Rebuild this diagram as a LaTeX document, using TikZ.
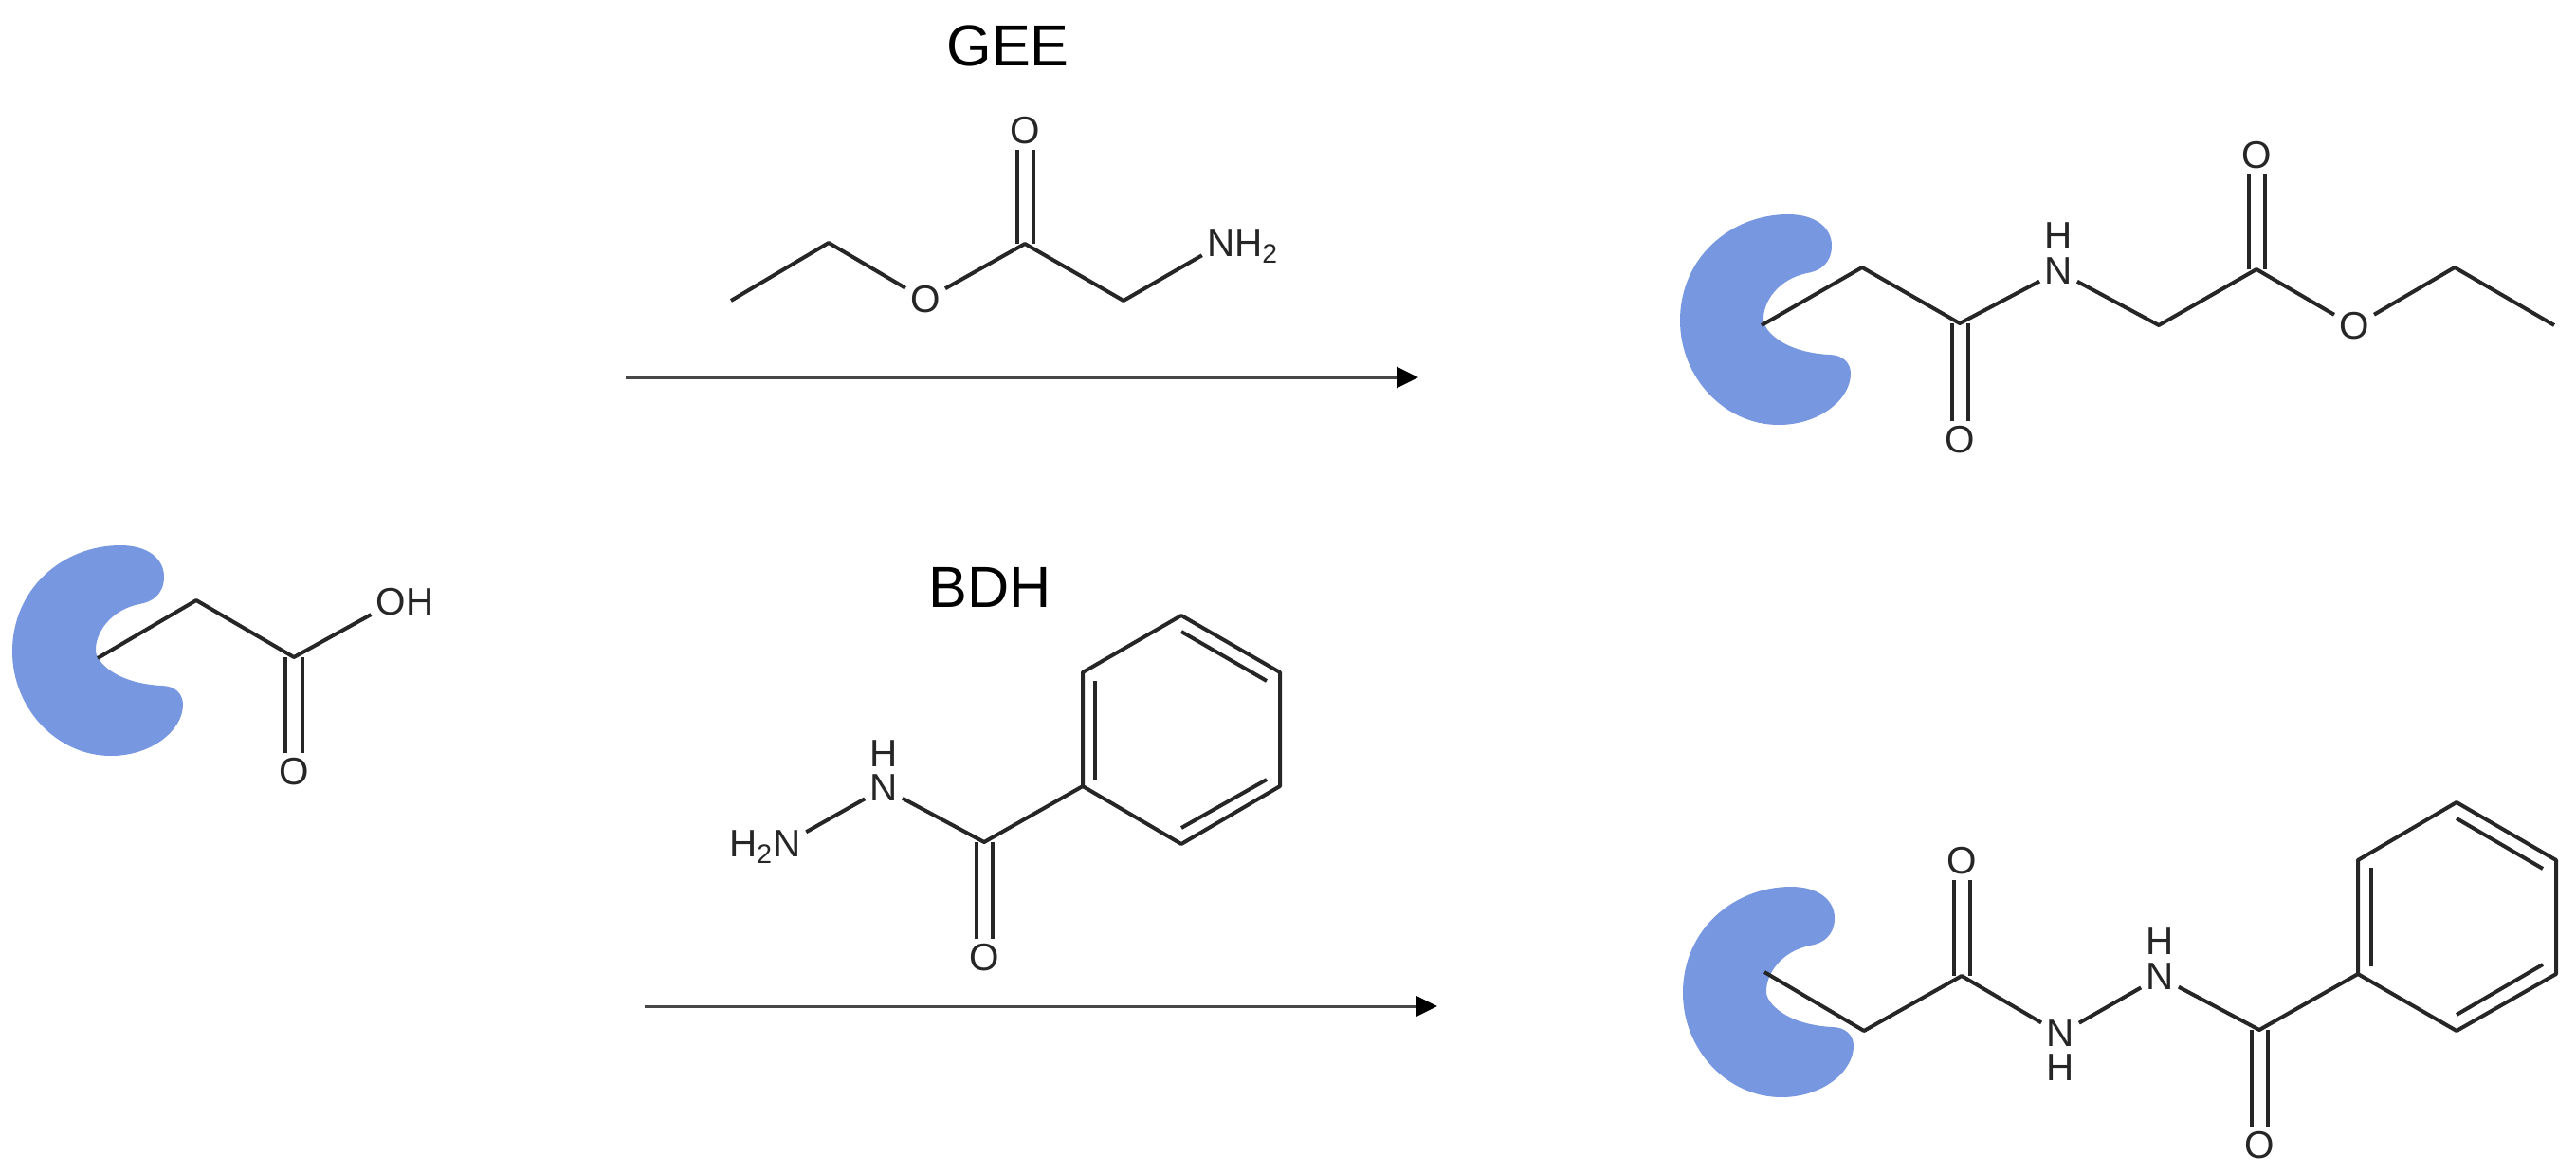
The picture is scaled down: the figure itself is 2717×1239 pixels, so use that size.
\documentclass[tikz,border=0pt]{standalone}
\usepackage{fontspec}
\setmainfont{Liberation Sans}
\usetikzlibrary{arrows.meta}
\definecolor{pocketblue}{HTML}{7797E0}
\definecolor{bondgrey}{HTML}{262626}
\tikzset{
    bond/.style={line width=0.04cm, color=bondgrey, line join=round},
    dbl/.style={bond, double=white, double distance=0.13cm},
    atom/.style={inner sep=1.5pt, outer sep=0pt, yshift=-0.3pt, text=bondgrey, font=\fontsize{11.5pt}{13pt}\selectfont},
    reagent/.style={inner sep=0pt, yshift=-0.3pt, text=black, font=\fontsize{17.4pt}{20pt}\selectfont},
    rxn/.style={line width=0.03cm, color=bondgrey!85, -{Triangle[length=0.23cm, width=0.22cm, color=black]}},
    pocket/.pic={
        \fill[pocketblue](114,0)
            .. controls (144,0) and (160,15) .. (160,33)
            .. controls (160,52) and (147,60) .. (134,62)
            .. controls (104,68) and (87,92) .. (88,112)
            .. controls (89,122) and (107,145) .. (157,148)
            .. controls (172,148) and (180,157) .. (180,168)
            .. controls (180,195) and (147,222) .. (104,222)
            .. controls (47,222) and (0,172) .. (0,112)
            .. controls (0,45) and (54,0) .. (114,0) -- cycle;
    }
}
\begin{document}
\begin{tikzpicture}[x=0.01cm, y=-0.01cm]
    \useasboundingbox (0,0) rectangle (2717,1239);

    \pic at (13,575){pocket};
    \coordinate(a0) at (103,694);
    \coordinate(a1) at (207,633);
    \coordinate(a2) at (310,693);
    \node[atom](aoh) at (427,634){OH};
    \node[atom](ao) at (310,813){O};
    \draw[dbl](a2)--(ao);
    \draw[bond](a0)--(a1)--(a2)--(aoh.200);

    \node[reagent](gee) at (1063,47){GEE};
    \coordinate(g1) at (771,317);
    \coordinate(g2) at (874,256);
    \node[atom](go) at (976,315){O};
    \coordinate(g3) at (1081,257);
    \node[atom](gdo) at (1081,137){O};
    \coordinate(g4) at (1185,317);
    \node[atom](gn) at (1311,259){NH\textsubscript{2}};
    \draw[dbl](g3)--(gdo);
    \draw[bond](g1)--(g2)--(go)--(g3)--(g4)--(gn.192);
    \coordinate(arr1a) at (660,398);
    \coordinate(arr1b) at (1496,398);
    \draw[rxn](arr1a)--(arr1b);

    \pic at (1772,226){pocket};
    \coordinate(p0) at (1858,343);
    \coordinate(p1) at (1964,282);
    \coordinate(p2) at (2067,341);
    \node[atom](po) at (2067,463){O};
    \node[atom](pn) at (2171,285){N};
    \node[atom](ph) at (2171,248){H};
    \coordinate(p3) at (2277,343);
    \coordinate(p4) at (2380,284);
    \node[atom](pdo) at (2380,163){O};
    \node[atom](peo) at (2483,343){O};
    \coordinate(p5) at (2589,282);
    \coordinate(p6) at (2694,343);
    \draw[dbl](p2)--(po);
    \draw[dbl](p4)--(pdo);
    \draw[bond](p0)--(p1)--(p2)--(pn)--(p3)--(p4)--(peo)--(p5)--(p6);

    \node[reagent](bdh) at (1044,618){BDH};
    \node[atom](bnn) at (807,892){H\textsubscript{2}N};
    \node[atom](bn) at (932,830){N};
    \node[atom](bh) at (932,794){H};
    \coordinate(b1) at (1038,888);
    \node[atom](bo) at (1038,1009){O};
    \coordinate(r1) at (1142,829);
    \coordinate(r2) at (1142,709);
    \coordinate(r3) at (1246,649);
    \coordinate(r4) at (1350,709);
    \coordinate(r5) at (1350,829);
    \coordinate(r6) at (1246,890);
    \coordinate(i1) at (1155,822);
    \coordinate(i2) at (1155,718);
    \coordinate(i3) at (1246,666);
    \coordinate(i4) at (1336,718);
    \coordinate(i5) at (1336,822);
    \coordinate(i6) at (1246,873);
    \draw[dbl](b1)--(bo);
    \draw[bond](bnn.20)--(bn)--(b1)--(r1);
    \draw[bond](r1)--(r2)--(r3)--(r4)--(r5)--(r6)--cycle;
    \draw[bond](i1)--(i2);
    \draw[bond](i3)--(i4);
    \draw[bond](i5)--(i6);
    \coordinate(arr2a) at (680,1061);
    \coordinate(arr2b) at (1516,1061);
    \draw[rxn](arr2a)--(arr2b);

    \pic at (1775,935){pocket};
    \coordinate(q0) at (1861,1025);
    \coordinate(q1) at (1966,1087);
    \coordinate(q2) at (2069,1029);
    \node[atom](qo) at (2069,907){O};
    \node[atom](qn) at (2173,1089){N};
    \node[atom](qh) at (2173,1125){H};
    \node[atom](qm) at (2278,1029){N};
    \node[atom](qk) at (2278,992){H};
    \coordinate(q3) at (2383,1086);
    \node[atom](qdo) at (2383,1207){O};
    \coordinate(s1) at (2487,1027);
    \coordinate(s2) at (2487,907);
    \coordinate(s3) at (2591,846);
    \coordinate(s4) at (2696,907);
    \coordinate(s5) at (2696,1027);
    \coordinate(s6) at (2591,1087);
    \coordinate(j1) at (2501,1019);
    \coordinate(j2) at (2501,915);
    \coordinate(j3) at (2591,863);
    \coordinate(j4) at (2682,916);
    \coordinate(j5) at (2682,1017);
    \coordinate(j6) at (2591,1070);
    \draw[dbl](q2)--(qo);
    \draw[dbl](q3)--(qdo);
    \draw[bond](q0)--(q1)--(q2)--(qn)--(qm)--(q3)--(s1);
    \draw[bond](s1)--(s2)--(s3)--(s4)--(s5)--(s6)--cycle;
    \draw[bond](j1)--(j2);
    \draw[bond](j3)--(j4);
    \draw[bond](j5)--(j6);
\end{tikzpicture}
\end{document}
